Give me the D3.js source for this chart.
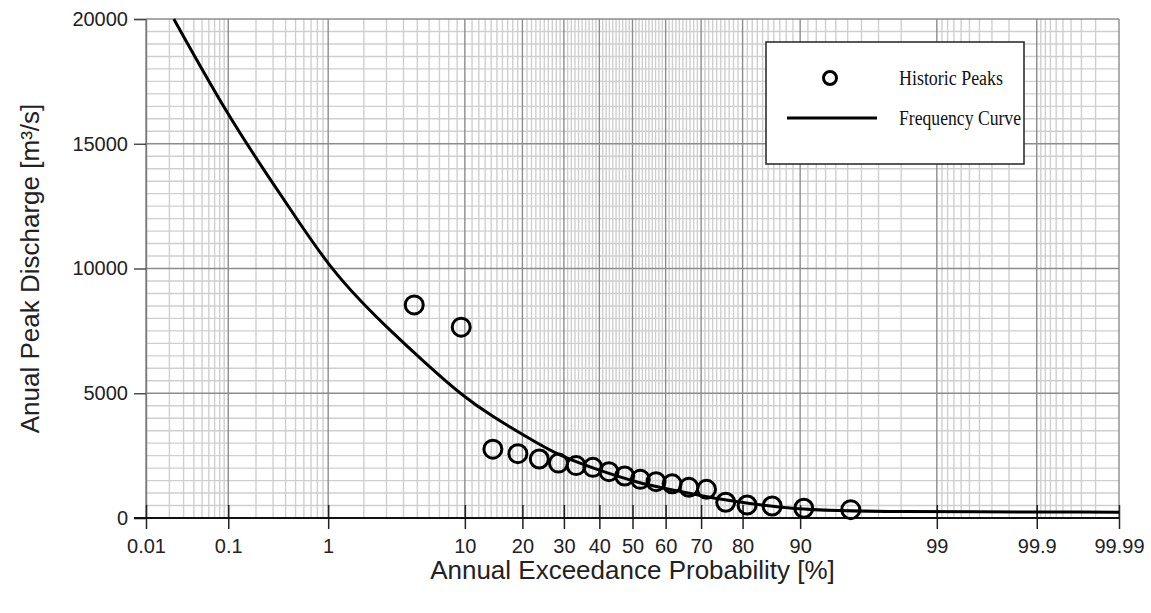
<!DOCTYPE html>
<html>
<head>
<meta charset="utf-8">
<script src="https://cdn.jsdelivr.net/npm/d3@7"></script>
<style>
  body { margin: 0; background: #fff; }
  svg { display: block; font-family: "Liberation Sans", Arial, sans-serif; }
</style>
</head>
<body>
<svg id="chart" width="1151" height="613"></svg>
<script>
// exceedance probabilities (%) of the historic peaks and their discharge
var peakP = [4.76, 9.52, 14.29, 19.05, 23.81, 28.57, 33.33, 38.10, 42.86, 47.62,
             52.38, 57.14, 61.90, 66.67, 71.43, 76.19, 80.95, 85.71, 90.48, 95.24];
var peakQ = [8540, 7650, 2760, 2580, 2365, 2200, 2100, 2030, 1856, 1683,
             1550, 1455, 1370, 1230, 1150, 630, 520, 480, 390, 335];

// fitted frequency curve
var curveP = [0.0227, 0.1, 0.28, 0.55, 1.04, 1.87, 3.19, 5.5, 9.8, 14.4,
              20.9, 28.1, 38.2, 51.2, 62.2, 71.4, 74.7, 89, 97, 99.99];
var curveQ = [20000, 16100, 13580, 11800, 10050, 8700, 7520, 6280, 4860, 4040,
              3250, 2540, 1992, 1420, 1122, 854, 760, 320, 250, 235];

var xTicks = [0.01, 0.1, 1, 10, 20, 30, 40, 50, 60, 70, 80, 90, 99, 99.9, 99.99];
var xTickLabels = ['0.01', '0.1', '1', '10', '20', '30', '40', '50', '60', '70', '80', '90', '99', '99.9', '99.99'];
var yTicks = [0, 5000, 10000, 15000, 20000];

// inverse normal cdf (Acklam)
function probit(p) {
    var a = [-39.69683028665376, 220.9460984245205, -275.9285104469687, 138.3577518672690, -30.66479806614716, 2.506628277459239];
    var b = [-54.47609879822406, 161.5858368580409, -155.6989798598866, 66.80131188771972, -13.28068155288572];
    var c = [-0.007784894002430293, -0.3223964580411365, -2.400758277161838, -2.549732539343734, 4.374664141464968, 2.938163982698783];
    var d = [0.007784695709041462, 0.3224671290700398, 2.445134137142996, 3.754408661907416];
    var q, r;
    if (p < 0.02425) {
        q = Math.sqrt(-2 * Math.log(p));
        return (((((c[0]*q+c[1])*q+c[2])*q+c[3])*q+c[4])*q+c[5]) / ((((d[0]*q+d[1])*q+d[2])*q+d[3])*q+1);
    } else if (p > 1 - 0.02425) {
        q = Math.sqrt(-2 * Math.log(1 - p));
        return -(((((c[0]*q+c[1])*q+c[2])*q+c[3])*q+c[4])*q+c[5]) / ((((d[0]*q+d[1])*q+d[2])*q+d[3])*q+1);
    }
    q = p - 0.5; r = q * q;
    return (((((a[0]*r+a[1])*r+a[2])*r+a[3])*r+a[4])*r+a[5])*q / (((((b[0]*r+b[1])*r+b[2])*r+b[3])*r+b[4])*r+1);
}

var plotLeft = 146, plotRight = 1119, plotTop = 19, plotBottom = 518;
var svg = d3.select('#chart');

var xz = d3.scaleLinear().domain([probit(0.0001), probit(0.9999)]).range([plotLeft, plotRight]);
var x = function(p) { return xz(probit(p / 100)); };
var y = d3.scaleLinear().domain([0, 20000]).range([plotBottom, plotTop]);

// minor grid positions in probability
var minorP = [];
[0.01, 0.1, 1].forEach(function(dec) {
    for (var k = 2; k <= 9; k++) minorP.push(+(dec * k).toFixed(4));
});
for (var k = 11; k <= 89; k++) if (k % 10 != 0) minorP.push(k);
for (var k = 91; k <= 98; k++) minorP.push(k);
for (var k = 1; k <= 8; k++) minorP.push(+(99 + k / 10).toFixed(2));
for (var k = 1; k <= 8; k++) minorP.push(+(99.9 + k / 100).toFixed(3));

var grid = svg.append('g').attr('class', 'grid');
grid.selectAll('line.hmin').data(d3.range(500, 20000, 500).filter(function(v) { return v % 5000 != 0; }))
    .enter().append('line').attr('class', 'hmin')
    .attr('x1', plotLeft).attr('x2', plotRight)
    .attr('y1', function(d) { return y(d); }).attr('y2', function(d) { return y(d); })
    .attr('stroke', '#cfcfcf').attr('stroke-width', 1.4);
grid.selectAll('line.vmin').data(minorP).enter().append('line').attr('class', 'vmin')
    .attr('x1', function(d) { return x(d); }).attr('x2', function(d) { return x(d); })
    .attr('y1', plotTop).attr('y2', plotBottom)
    .attr('stroke', '#cfcfcf').attr('stroke-width', 1.4);
grid.selectAll('line.hmaj').data(yTicks.slice(1)).enter().append('line').attr('class', 'hmaj')
    .attr('x1', plotLeft).attr('x2', plotRight)
    .attr('y1', function(d) { return y(d); }).attr('y2', function(d) { return y(d); })
    .attr('stroke', '#8c8c8c').attr('stroke-width', 1.4);
grid.selectAll('line.vmaj').data(xTicks).enter().append('line').attr('class', 'vmaj')
    .attr('x1', function(d) { return x(d); }).attr('x2', function(d) { return x(d); })
    .attr('y1', plotTop).attr('y2', plotBottom)
    .attr('stroke', '#8c8c8c').attr('stroke-width', 1.4);

// y axis
var yAxis = svg.append('g').attr('transform', 'translate(' + plotLeft + ',0)')
    .call(d3.axisLeft(y).tickValues(yTicks).tickFormat(d3.format('d')).tickSize(12).tickPadding(6));
yAxis.select('.domain').attr('stroke', '#777').attr('stroke-width', 1.4);
yAxis.selectAll('.tick line').attr('stroke', '#444').attr('stroke-width', 1.4);
yAxis.selectAll('.tick text').attr('font-size', 20).attr('fill', '#222')
    .attr('font-family', '"Liberation Sans", Arial, sans-serif');

// x axis
var xAxis = svg.append('g').attr('transform', 'translate(0,' + plotBottom + ')')
    .call(d3.axisBottom(xz).tickValues(xTicks.map(function(p) { return probit(p / 100); }))
        .tickFormat(function(d, i) { return xTickLabels[i]; }).tickSize(11).tickPadding(10));
xAxis.select('.domain').remove();
xAxis.append('line').attr('x1', plotLeft - 12).attr('x2', plotRight).attr('stroke', '#111').attr('stroke-width', 2);
xAxis.selectAll('.tick line').attr('y1', -13).attr('stroke', '#222').attr('stroke-width', 1.5);
xAxis.selectAll('.tick text').attr('font-size', 20).attr('fill', '#222')
    .attr('font-family', '"Liberation Sans", Arial, sans-serif');

// frequency curve
var line = d3.line()
    .x(function(d, i) { return x(curveP[i]); })
    .y(function(d) { return y(d); })
    .curve(d3.curveBasis);
svg.append('path').datum(curveQ).attr('d', line)
    .attr('fill', 'none').attr('stroke', '#000').attr('stroke-width', 3);

// historic peaks
svg.selectAll('circle.peak').data(peakQ).enter().append('circle').attr('class', 'peak')
    .attr('cx', function(d, i) { return x(peakP[i]); })
    .attr('cy', function(d) { return y(d); })
    .attr('r', 9)
    .attr('fill', 'none').attr('stroke', '#000').attr('stroke-width', 3);

// legend
var lg = svg.append('g').attr('transform', 'translate(766,42)');
lg.append('rect').attr('width', 258).attr('height', 122)
    .attr('fill', '#fff').attr('stroke', '#222').attr('stroke-width', 1.5);
lg.append('circle').attr('cx', 64).attr('cy', 36).attr('r', 6.5)
    .attr('fill', 'none').attr('stroke', '#000').attr('stroke-width', 3);
lg.append('line').attr('x1', 21).attr('x2', 111).attr('y1', 76).attr('y2', 76)
    .attr('stroke', '#000').attr('stroke-width', 3);
var legendText = ['Historic Peaks', 'Frequency Curve'];
var legendWidth = [104, 122];
lg.selectAll('text').data(legendText).enter().append('text')
    .attr('x', 133).attr('y', function(d, i) { return 43 + i * 40; })
    .attr('font-family', '"Liberation Serif", "Times New Roman", serif')
    .attr('font-size', 20).attr('fill', '#111')
    .attr('textLength', function(d, i) { return legendWidth[i]; })
    .attr('lengthAdjust', 'spacingAndGlyphs')
    .text(function(d) { return d; });

// axis titles
svg.append('text').attr('x', (plotLeft + plotRight) / 2).attr('y', 579)
    .attr('text-anchor', 'middle').attr('font-size', 26).attr('fill', '#222')
    .text('Annual Exceedance Probability [%]');
svg.append('text').attr('transform', 'translate(39,' + (plotTop + plotBottom) / 2 + ') rotate(-90)')
    .attr('text-anchor', 'middle').attr('font-size', 26).attr('fill', '#222')
    .text('Anual Peak Discharge [m³/s]');
</script>
</body>
</html>
